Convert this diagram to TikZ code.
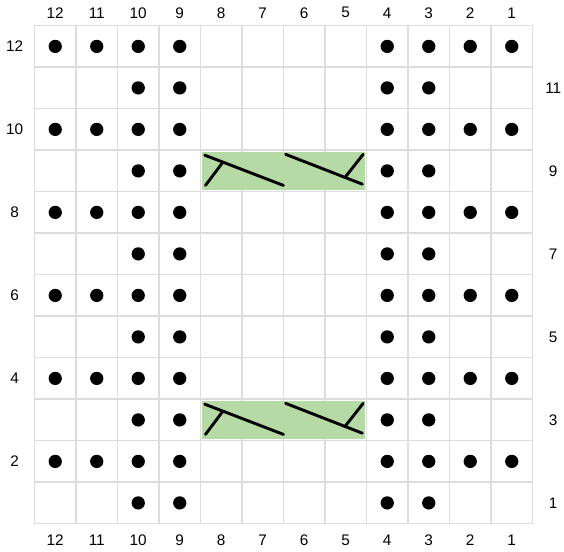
\documentclass[tikz,border=0pt]{standalone}
\usepackage{fontspec}
\setmainfont{Liberation Sans}
\definecolor{gridgray}{RGB}{221,221,221}
\definecolor{cablegreen}{RGB}{182,218,166}
\usetikzlibrary{positioning}

\tikzset{
  numlabel/.style={font=\fontsize{10.5}{12}\selectfont, inner sep=0pt},
  cablebox/.style={fill=cablegreen, minimum width=3.93cm, minimum height=0.93cm, inner sep=0pt, outer sep=0pt},
  cableline/.style={line width=2pt, line cap=round}
}

\begin{document}
\begin{tikzpicture}[x=1cm,y=1cm]
  \useasboundingbox (-0.831,-0.67) rectangle (12.759,12.618);

  %--- Grid ---
  \draw[gridgray, line width=1pt] (0,0) grid (12,12);

  %--- Cable backgrounds (rows 9 and 3, stitches 8-5) ---
  \node[cablebox] (cablenine) at (6,8.5) {};
  \node[cablebox] (cablethree) at (6,2.5) {};

  %--- Purl dots ---
  \foreach \r in {2,4,...,12}
    \foreach \c in {12,11,10,9,4,3,2,1}
      \fill ({12.5-\c},{\r-0.5}) circle (0.16);
  \foreach \r in {1,3,...,11}
    \foreach \c in {10,9,4,3}
      \fill ({12.5-\c},{\r-0.5}) circle (0.16);

  %--- Cable symbols ---
  \foreach \y in {2,8} {
    \draw[cableline] (4.10,\y+0.88) -- (6.00,\y+0.15);
    \draw[cableline] (4.54,\y+0.71) -- (4.12,\y+0.15);
    \draw[cableline] (6.05,\y+0.90) -- (7.90,\y+0.18);
    \draw[cableline] (7.48,\y+0.34) -- (7.92,\y+0.90);
  }

  %--- Stitch numbers ---
  \foreach \c in {1,...,12} {
    \node[numlabel] (top\c) at ({12.5-\c},12.31) {\c};
    \node[numlabel] (bottom\c) at ({12.5-\c},-0.40) {\c};
  }

  %--- Row numbers ---
  \foreach \r in {2,4,...,12}
    \node[numlabel] (rowleft\r) at (-0.48,{\r-0.5}) {\r};
  \foreach \r in {1,3,...,11}
    \node[numlabel] (rowright\r) at (12.50,{\r-0.5}) {\r};
\end{tikzpicture}
\end{document}
